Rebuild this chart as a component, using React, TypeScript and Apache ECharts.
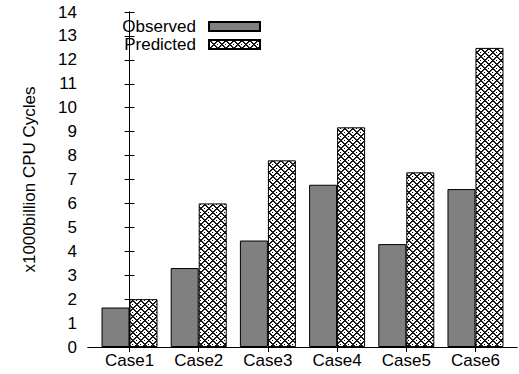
import React, { useEffect, useRef } from "react";
import * as echarts from "echarts";

const categories = ["Case1", "Case2", "Case3", "Case4", "Case5", "Case6"];
const observed = [1.65, 3.3, 4.45, 6.78, 4.3, 6.6];
const predicted = [2.0, 6.0, 7.8, 9.18, 7.3, 12.5];
const categoryPositions = [0, 1, 2, 3, 4, 5];

const FONT = "'Liberation Sans', Arial, Helvetica, sans-serif";

function makePattern(): string {
  const n = 8;
  const c = document.createElement("canvas");
  c.width = n;
  c.height = n;
  const g = c.getContext("2d")!;
  g.fillStyle = "#ffffff";
  g.fillRect(0, 0, n, n);
  g.fillStyle = "#000000";
  for (let y = 0; y < n; y++) {
    for (let x = 0; x < n; x++) {
      const d1 = (((x - y) % n) + n) % n;
      const d2 = (x + y) % n;
      let black = d1 === 0 || d2 === 0;
      if ((x === 4 && y === 0) || (x === 0 && y === 4)) black = true;
      if (black) g.fillRect(x, y, 1, 1);
    }
  }
  g.fillStyle = "rgba(0,0,0,0.8)";
  for (let y = 0; y < n; y++) {
    for (let x = 0; x < n; x++) {
      const d1 = (((x - y) % n) + n) % n;
      const d2 = (x + y) % n;
      if (d1 === 1 || d2 === 1) g.fillRect(x, y, 1, 1);
    }
  }
  return c.toDataURL();
}

export default function App() {
  const ref = useRef<HTMLDivElement>(null);
  useEffect(() => {
    if (!ref.current) return;
    const chart = echarts.init(ref.current, undefined, { renderer: "svg" });
    const pattern: any = {
      image: makePattern(),
      repeat: "repeat",
      imageWidth: 8,
      imageHeight: 8,
    };
    const axisLine = { show: true, lineStyle: { color: "#000", width: 1 } };
    const tick = { show: true, inside: true, length: 5, lineStyle: { color: "#000" } };
    const legendBase = {
      orient: "vertical" as const,
      align: "right" as const,
      right: 258,
      padding: 0,
      itemWidth: 51,
      itemHeight: 9,
      itemGap: 0,
      icon: "rect",
      textStyle: { fontFamily: FONT, fontSize: 17, color: "#000", padding: [0, 8, 0, 0] },
    };
    chart.setOption({
      animation: false,
      backgroundColor: "#fff",
      grid: { left: 88, right: 2, top: 12, bottom: 27, containLabel: false },
      legend: [
        { ...legendBase, top: 18, data: ["Observed"] },
        { ...legendBase, top: 36, data: ["Predicted"] },
      ],
      xAxis: [
        {
          type: "value",
          min: -0.6,
          max: 5.6,
          position: "bottom",
          axisLine,
          axisTick: { ...tick, customValues: categoryPositions },
          splitLine: { show: false },
          axisLabel: {
            customValues: categoryPositions,
            formatter: (v: number) => categories[Math.round(v)] ?? "",
            fontFamily: FONT,
            fontSize: 17,
            color: "#000",
            margin: 5,
          },
        },
        {
          type: "value",
          min: -0.6,
          max: 5.6,
          position: "top",
          axisLine,
          axisTick: { ...tick, customValues: categoryPositions },
          splitLine: { show: false },
          axisLabel: { show: false },
        },
      ],
      yAxis: [
        {
          type: "value",
          min: 0,
          max: 14,
          interval: 1,
          position: "left",
          axisLine,
          axisTick: tick,
          splitLine: { show: false },
          axisLabel: {
            fontFamily: FONT,
            fontSize: 17,
            color: "#000",
            margin: 11,
          },
          name: "x1000billion CPU Cycles",
          nameLocation: "middle",
          nameRotate: 90,
          nameGap: 50,
          nameTextStyle: { fontFamily: FONT, fontSize: 17, color: "#000" },
        },
        {
          type: "value",
          min: 0,
          max: 14,
          interval: 1,
          position: "right",
          axisLine,
          axisTick: tick,
          splitLine: { show: false },
          axisLabel: { show: false },
        },
      ],
      series: [
        {
          name: "Observed",
          type: "bar",
          xAxisIndex: 0,
          yAxisIndex: 0,
          barWidth: 28,
          barGap: "0%",
          data: categoryPositions.map((x, i) => [x, observed[i]]),
          itemStyle: { color: "#808080", borderColor: "#000", borderWidth: 1 },
        },
        {
          name: "Predicted",
          type: "bar",
          xAxisIndex: 0,
          yAxisIndex: 0,
          barWidth: 28,
          barGap: "0%",
          data: categoryPositions.map((x, i) => [x, predicted[i]]),
          itemStyle: { color: pattern, borderColor: "#000", borderWidth: 1 },
        },
      ],
    });
    return () => chart.dispose();
  }, []);
  return <div ref={ref} style={{ width: 519, height: 374, position: "absolute", left: 0, top: 0 }} />;
}
